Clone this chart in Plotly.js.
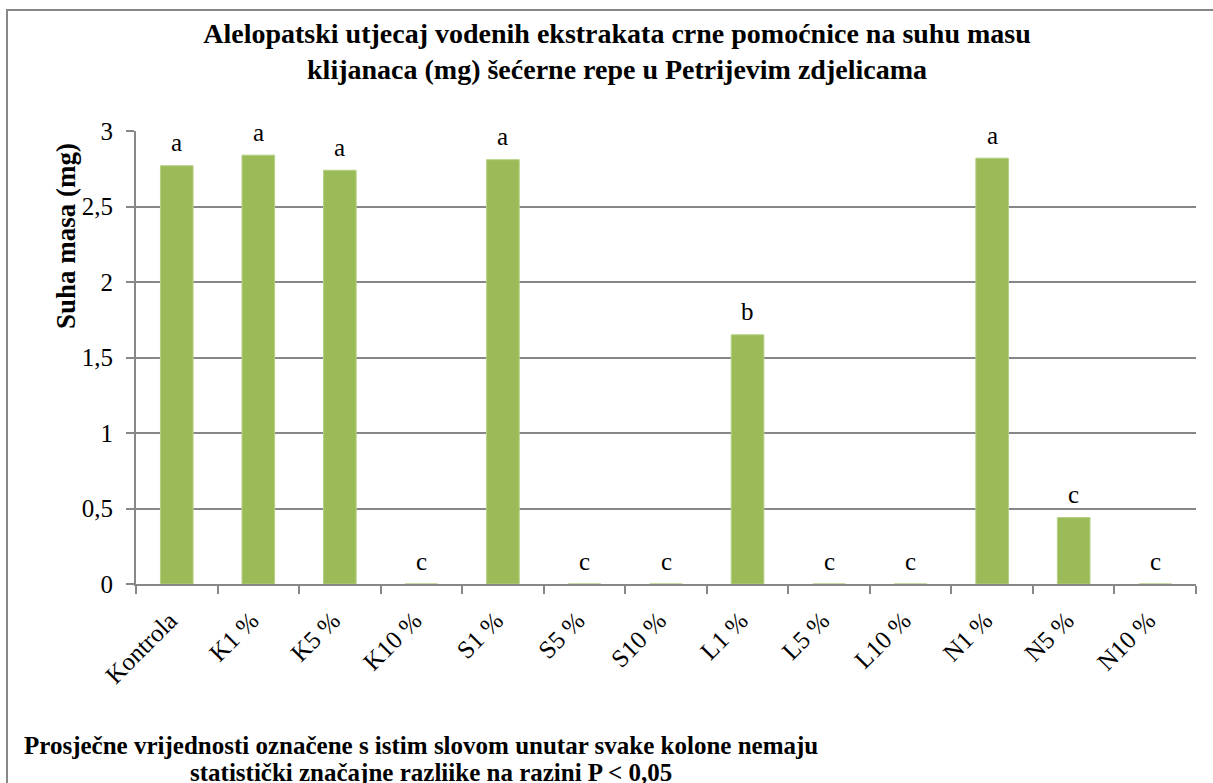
<!DOCTYPE html>
<html>
<head>
<meta charset="utf-8">
<script src="https://cdn.plot.ly/plotly-3.0.1.min.js"></script>
<style>
html,body{margin:0;padding:0;background:#fff;}
#chart{width:1213px;height:783px;}
</style>
</head>
<body>
<div id="chart"></div>
<script>
const categories = ["Kontrola","K1 %","K5 %","K10 %","S1 %","S5 %","S10 %","L1 %","L5 %","L10 %","N1 %","N5 %","N10 %"];
const values = [2.77, 2.84, 2.74, 0, 2.81, 0, 0, 1.65, 0, 0, 2.82, 0.44, 0];
const letters = ["a","a","a","c","a","c","c","b","c","c","a","c","c"];
const yTicks = [0, 0.5, 1, 1.5, 2, 2.5, 3];
const yTickText = ["0","0,5","1","1,5","2","2,5","3"];

const titleText = "<b>Alelopatski utjecaj vodenih ekstrakata crne pomoćnice na suhu masu<br>klijanaca (mg) šećerne repe u Petrijevim zdjelicama</b>";
const yTitle = "<b>Suha masa (mg)</b>";
const noteLine1 = "<b>Prosječne vrijednosti označene s istim slovom unutar svake kolone nemaju</b>";
const noteLine2 = "<b>statistički značajne razliike na razini P < 0,05</b>";

const FONT = "Liberation Serif";
const gray = "#878787";

// pixel helpers for paper coordinates (plot area: x 136..1196, y 131..584)
const px = x => (x - 136) / 1060;
const py = y => (584 - y) / 453;

const trace = {
  type: "bar",
  x: categories,
  y: values,
  marker: {color: "#9BBB59", line: {color: "#b5cf83", width: 1}},
  hoverinfo: "x+y"
};

const annotations = categories.map((c, i) => ({
  x: c, y: values[i], xref: "x", yref: "y",
  text: letters[i], showarrow: false,
  yanchor: "middle", yshift: 23,
  font: {family: FONT, size: 25, color: "#000"}
}));

annotations.push({
  xref: "paper", yref: "paper", x: px(421), y: py(745),
  xanchor: "center", yanchor: "middle",
  text: noteLine1, showarrow: false,
  font: {family: FONT, size: 25, color: "#000"}
});
annotations.push({
  xref: "paper", yref: "paper", x: px(431), y: py(772),
  xanchor: "center", yanchor: "middle",
  text: noteLine2, showarrow: false,
  font: {family: FONT, size: 25, color: "#000"}
});
annotations.push({
  xref: "paper", yref: "paper", x: px(66), y: py(236),
  xanchor: "center", yanchor: "middle", textangle: -90,
  text: yTitle, showarrow: false,
  font: {family: FONT, size: 27, color: "#000"}
});

const layout = {
  width: 1213, height: 783,
  margin: {l: 136, r: 17, t: 131, b: 199},
  paper_bgcolor: "#fff", plot_bgcolor: "#fff",
  font: {family: FONT, color: "#000"},
  separators: ", ",
  showlegend: false,
  bargap: 0.6,
  title: {
    text: titleText,
    x: 617 / 1213, xanchor: "center", xref: "container",
    y: 1 - 43 / 783, yanchor: "top", yref: "container",
    font: {family: FONT, size: 28, color: "#000"}
  },
  xaxis: {
    type: "category",
    tickangle: -45,
    tickson: "boundaries",
    ticks: "outside", ticklen: 8, tickwidth: 2, tickcolor: gray,
    ticklabelstandoff: 10,
    ticklabelshift: -7,
    showline: true, linecolor: gray, linewidth: 2,
    showgrid: false,
    tickfont: {family: FONT, size: 25, color: "#000"}
  },
  yaxis: {
    range: [0, 3],
    tickvals: yTicks, ticktext: yTickText,
    ticks: "outside", ticklen: 8, tickwidth: 2, tickcolor: gray,
    ticklabelstandoff: 8,
    showline: true, linecolor: gray, linewidth: 2,
    showgrid: true, gridcolor: gray, gridwidth: 2,
    zeroline: false,
    tickfont: {family: FONT, size: 25, color: "#000"}
  },
  annotations: annotations,
  shapes: [{
    type: "rect", xref: "paper", yref: "paper",
    x0: px(7), x1: 1.1,
    y0: -0.6, y1: py(10),
    line: {color: gray, width: 2}, fillcolor: "rgba(0,0,0,0)", layer: "below"
  }]
};

Plotly.newPlot("chart", [trace], layout, {displayModeBar: false, staticPlot: true});
</script>
</body>
</html>
